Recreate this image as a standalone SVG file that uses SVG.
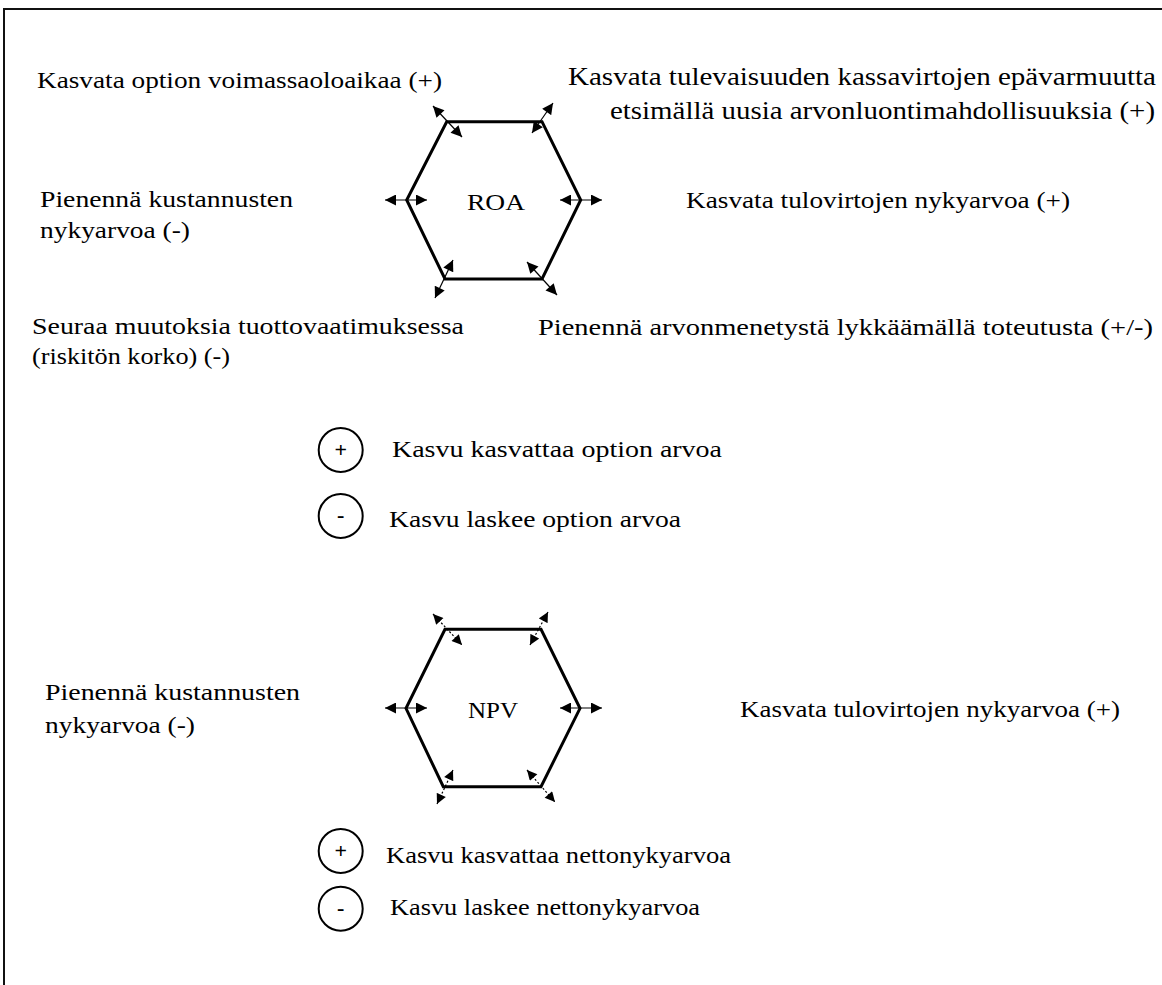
<svg xmlns="http://www.w3.org/2000/svg" width="1162" height="985" viewBox="0 0 1162 985">
<defs>
<marker id="ah" viewBox="0 0 10 10" refX="10" refY="5" markerWidth="12" markerHeight="11" markerUnits="userSpaceOnUse" orient="auto-start-reverse">
<path d="M0,0 L10,5 L0,10 z" fill="#000"/>
</marker>
<marker id="ahs" viewBox="0 0 10 10" refX="10" refY="5" markerWidth="11" markerHeight="10" markerUnits="userSpaceOnUse" orient="auto-start-reverse">
<path d="M0,0 L10,5 L0,10 z" fill="#000"/>
</marker>
</defs>
<style>
text{font-family:'Liberation Serif','Times New Roman',serif;font-size:23px;fill:#000}
.big{font-size:25px}
.hex{fill:none;stroke:#000;stroke-width:3;stroke-linejoin:miter}
.arr{stroke:#000;stroke-width:1.2;fill:none;marker-start:url(#ah);marker-end:url(#ah)}
.arrd{stroke:#000;stroke-width:1.2;fill:none;stroke-dasharray:2 2;marker-start:url(#ahs);marker-end:url(#ahs)}
.c{fill:none;stroke:#000;stroke-width:2}
.sym{font-size:22px;text-anchor:middle;font-weight:bold}
</style>
<rect width="1162" height="985" fill="#fff"/>
<path d="M4,985 L4,9 L1162,9" fill="none" stroke="#111" stroke-width="2"/>

<g id="roa">
<polygon class="hex" points="446.7,121.7 542,121.7 580.7,200 542,279 445,279 406.7,200"/>
<text x="467" y="210" textLength="58" lengthAdjust="spacingAndGlyphs">ROA</text>
</g>
<g id="roa-connectors">
<line class="arr" x1="433" y1="106" x2="462" y2="137"/>
<line class="arr" x1="553" y1="103" x2="532" y2="133"/>
<line class="arr" x1="385" y1="200" x2="427" y2="200"/>
<line class="arr" x1="560" y1="200" x2="602" y2="200"/>
<line class="arr" x1="453" y1="260" x2="435" y2="298"/>
<line class="arr" x1="527" y1="262" x2="557" y2="295"/>
</g>
<g id="roa-labels">
<text x="37" y="88" textLength="405" lengthAdjust="spacingAndGlyphs">Kasvata option voimassaoloaikaa (+)</text>
<text class="big" x="568" y="85" textLength="588" lengthAdjust="spacingAndGlyphs">Kasvata tulevaisuuden kassavirtojen epävarmuutta</text>
<text class="big" x="610" y="119" textLength="545" lengthAdjust="spacingAndGlyphs">etsimällä uusia arvonluontimahdollisuuksia (+)</text>
<text x="40" y="207" textLength="253" lengthAdjust="spacingAndGlyphs">Pienennä kustannusten</text>
<text x="40" y="238" textLength="150" lengthAdjust="spacingAndGlyphs">nykyarvoa (-)</text>
<text x="686" y="208" textLength="384" lengthAdjust="spacingAndGlyphs">Kasvata tulovirtojen nykyarvoa (+)</text>
<text x="32" y="334" textLength="432" lengthAdjust="spacingAndGlyphs">Seuraa muutoksia tuottovaatimuksessa</text>
<text x="32" y="364" textLength="198" lengthAdjust="spacingAndGlyphs">(riskitön korko) (-)</text>
<text x="538" y="335" textLength="615" lengthAdjust="spacingAndGlyphs">Pienennä arvonmenetystä lykkäämällä toteutusta (+/-)</text>
</g>
<g id="roa-legend">
<circle class="c" cx="340.7" cy="450" r="22"/>
<text class="sym" x="340.7" y="457">+</text>
<text x="392" y="457" textLength="330" lengthAdjust="spacingAndGlyphs">Kasvu kasvattaa option arvoa</text>
<circle class="c" cx="340.7" cy="516" r="22"/>
<text class="sym" x="340.7" y="522">-</text>
<text x="389" y="527" textLength="292" lengthAdjust="spacingAndGlyphs">Kasvu laskee option arvoa</text>
</g>

<g id="npv">
<polygon class="hex" points="445,629.3 541,629.3 580,708.3 541,786.7 443.3,786.7 406,708.3"/>
<text x="468" y="718" textLength="50" lengthAdjust="spacingAndGlyphs">NPV</text>
</g>
<g id="npv-connectors">
<line class="arrd" x1="433" y1="614" x2="462" y2="645"/>
<line class="arrd" x1="548" y1="612" x2="530" y2="645"/>
<line class="arr" x1="385" y1="708" x2="427" y2="708"/>
<line class="arr" x1="560" y1="708" x2="602" y2="708"/>
<line class="arrd" x1="453" y1="770" x2="437" y2="804"/>
<line class="arrd" x1="527" y1="770" x2="555" y2="802"/>
</g>
<g id="npv-labels">
<text x="45" y="700" textLength="255" lengthAdjust="spacingAndGlyphs">Pienennä kustannusten</text>
<text x="45" y="733" textLength="150" lengthAdjust="spacingAndGlyphs">nykyarvoa (-)</text>
<text x="740" y="717" textLength="380" lengthAdjust="spacingAndGlyphs">Kasvata tulovirtojen nykyarvoa (+)</text>
</g>
<g id="npv-legend">
<circle class="c" cx="340.7" cy="851" r="22"/>
<text class="sym" x="340.7" y="858">+</text>
<text x="386" y="863" textLength="345" lengthAdjust="spacingAndGlyphs">Kasvu kasvattaa nettonykyarvoa</text>
<circle class="c" cx="340.7" cy="908.7" r="22"/>
<text class="sym" x="340.7" y="915">-</text>
<text x="390" y="915" textLength="310" lengthAdjust="spacingAndGlyphs">Kasvu laskee nettonykyarvoa</text>
</g>
</svg>
